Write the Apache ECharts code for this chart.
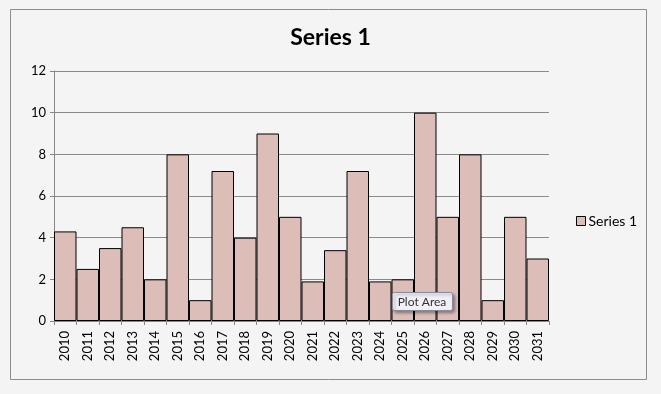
<!DOCTYPE html>
<html>
<head>
<meta charset="utf-8">
<script src="https://cdn.jsdelivr.net/npm/echarts@6/dist/echarts.min.js"></script>
<style>
html,body{margin:0;padding:0;background:#f4f4f4;}
#c{width:661px;height:394px;}
</style>
</head>
<body>
<div id="c"></div>
<script>
var categories = ['2010','2011','2012','2013','2014','2015','2016','2017','2018','2019','2020','2021','2022','2023','2024','2025','2026','2027','2028','2029','2030','2031'];
var series1 = [4.3,2.5,3.5,4.5,2,8,1,7.2,4,9,5,1.9,3.4,7.2,1.9,2,10,5,8,1,5,3];
var yTicks = [0,2,4,6,8,10,12];

var chart = echarts.init(document.getElementById('c'), null, {renderer:'canvas'});
chart.setOption({
  backgroundColor:'#f4f4f4',
  animation:false,
  title:{
    text:'Series 1',
    left:'center',
    top:21,
    textStyle:{fontFamily:'Lato',fontWeight:'bold',fontSize:23,color:'#000'}
  },
  legend:{
    orient:'vertical',
    left:571,
    top:209,
    itemWidth:9,
    itemHeight:9,
    itemGap:4,
    icon:'rect',
    textStyle:{fontFamily:'Lato',fontSize:14,color:'#000',padding:[0,0,0,-2]},
    data:[{name:'Series 1',itemStyle:{color:'#dcbdb8',borderColor:'#000',borderWidth:1}}]
  },
  grid:{left:54,right:112,top:71,bottom:73,containLabel:false},
  xAxis:{
    type:'category',
    data:categories,
    boundaryGap:true,
    axisLine:{lineStyle:{color:'#888',width:1}},
    axisTick:{show:true,length:4,lineStyle:{color:'#888'}},
    axisLabel:{rotate:90,fontFamily:'Lato',fontSize:13,color:'#000',margin:10,interval:0}
  },
  yAxis:{
    type:'value',
    min:yTicks[0],
    max:yTicks[yTicks.length-1],
    interval:2,
    axisLine:{show:true,lineStyle:{color:'#888',width:1}},
    axisTick:{show:true,length:4,lineStyle:{color:'#888'}},
    axisLabel:{fontFamily:'Lato',fontSize:13,color:'#000',margin:8},
    splitLine:{show:true,lineStyle:{color:'#8a8a8a',width:1}}
  },
  series:[{
    name:'Series 1',
    type:'bar',
    data:series1,
    barCategoryGap:'0%',
    itemStyle:{color:'#dcbdb8',borderColor:'#000',borderWidth:1}
  }],
  graphic:{elements:[
    {type:'rect',id:'frame',shape:{x:10.5,y:9.5,width:636,height:370},style:{fill:'none',stroke:'#8c8c8c',lineWidth:1},z:-1,silent:true},
    {type:'rect',id:'tipbox',shape:{x:392.5,y:292.5,width:60,height:18,r:2},style:{fill:'#f0f0f6',stroke:'#8a8a9a',lineWidth:1,shadowBlur:3,shadowOffsetX:2,shadowOffsetY:2,shadowColor:'rgba(0,0,0,0.35)'},z:100},
    {type:'text',id:'tiptext',x:422,y:302,style:{text:'Plot Area',font:'12px Lato',fill:'#333',align:'center',verticalAlign:'middle'},z:101}
  ]}
});
</script>
</body>
</html>
